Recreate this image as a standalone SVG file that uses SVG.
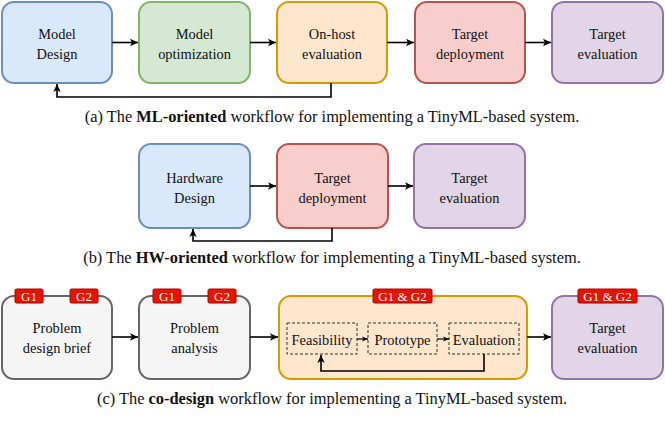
<svg xmlns="http://www.w3.org/2000/svg" width="665" height="423" viewBox="0 0 665 423" font-family="'Liberation Serif', 'Times New Roman', 'DejaVu Serif', serif">
<defs>
<marker id="arr" markerUnits="userSpaceOnUse" markerWidth="10" markerHeight="10" refX="9" refY="5" orient="auto">
<path d="M1,1.3 L9,5 L1,8.7 L3,5 Z" fill="#000"/>
</marker>
<marker id="arrs" markerUnits="userSpaceOnUse" markerWidth="8" markerHeight="8" refX="7" refY="4" orient="auto">
<path d="M1,1.5 L7,4 L1,6.5 L2.5,4 Z" fill="#000"/>
</marker>
</defs>
<style>
text{fill:#111;}
.t{font-size:14.4px;text-anchor:middle;}
.cap{font-size:16.4px;text-anchor:middle;}
.tag rect{fill:#e51400;stroke:#b20000;stroke-width:1;}
.tag text{font-size:13px;fill:#fff;text-anchor:middle;}
.box{stroke-width:2;}
.blue{fill:#dae8fc;stroke:#6c8ebf;}
.green{fill:#d5e8d4;stroke:#82b366;}
.orange{fill:#ffe6cc;stroke:#d79b00;}
.red{fill:#f8cecc;stroke:#b85450;}
.purple{fill:#e1d5e7;stroke:#9673a6;}
.gray{fill:#f5f5f5;stroke:#666666;}
.dash{fill:none;stroke:#333;stroke-width:1;stroke-dasharray:3 2;}
.c{fill:none;stroke:#000;stroke-width:1.6;}
.cs{fill:none;stroke:#000;stroke-width:1.2;}
</style>

<!-- Row (a) -->
<g id="a_model_design"><rect class="box blue" x="2" y="2" width="110" height="81" rx="12"/><text class="t" x="57" y="38.5">Model</text><text class="t" x="57" y="58.5">Design</text></g>
<g id="a_model_opt"><rect class="box green" x="139" y="2" width="111" height="81" rx="12"/><text class="t" x="194.5" y="38.5">Model</text><text class="t" x="194.5" y="58.5">optimization</text></g>
<g id="a_onhost"><rect class="box orange" x="277" y="2" width="110" height="81" rx="12"/><text class="t" x="332" y="38.5">On-host</text><text class="t" x="332" y="58.5">evaluation</text></g>
<g id="a_target_dep"><rect class="box red" x="415" y="2" width="110" height="81" rx="12"/><text class="t" x="470" y="38.5">Target</text><text class="t" x="470" y="58.5">deployment</text></g>
<g id="a_target_eval"><rect class="box purple" x="552" y="2" width="111" height="81" rx="12"/><text class="t" x="607.5" y="38.5">Target</text><text class="t" x="607.5" y="58.5">evaluation</text></g>
<text class="cap" x="332" y="122">(a) The <tspan font-weight="bold">ML-oriented</tspan> workflow for implementing a TinyML-based system.</text>

<!-- Row (b) -->
<g id="b_hw_design"><rect class="box blue" x="139" y="144" width="111" height="84" rx="12"/><text class="t" x="194.5" y="182.5">Hardware</text><text class="t" x="194.5" y="202.5">Design</text></g>
<g id="b_target_dep"><rect class="box red" x="277" y="144" width="111" height="84" rx="12"/><text class="t" x="332.5" y="182.5">Target</text><text class="t" x="332.5" y="202.5">deployment</text></g>
<g id="b_target_eval"><rect class="box purple" x="414" y="144" width="111" height="84" rx="12"/><text class="t" x="469.5" y="182.5">Target</text><text class="t" x="469.5" y="202.5">evaluation</text></g>
<text class="cap" x="332" y="263">(b) The <tspan font-weight="bold">HW-oriented</tspan> workflow for implementing a TinyML-based system.</text>

<!-- Row (c) -->
<g id="c_problem_brief"><rect class="box gray" x="2" y="296" width="110" height="83" rx="12"/><text class="t" x="57" y="333">Problem</text><text class="t" x="57" y="353">design brief</text>
<g class="tag"><rect x="15" y="289" width="28" height="14" rx="1.5"/><text x="29" y="300.5">G1</text></g>
<g class="tag"><rect x="70" y="289" width="28" height="14" rx="1.5"/><text x="84" y="300.5">G2</text></g></g>
<g id="c_problem_analysis"><rect class="box gray" x="139" y="296" width="111" height="83" rx="12"/><text class="t" x="194.5" y="333">Problem</text><text class="t" x="194.5" y="353">analysis</text>
<g class="tag"><rect x="153" y="289" width="28" height="14" rx="1.5"/><text x="167" y="300.5">G1</text></g>
<g class="tag"><rect x="208" y="289" width="28" height="14" rx="1.5"/><text x="222" y="300.5">G2</text></g></g>
<g id="c_iterative"><rect class="box orange" x="279" y="296" width="248" height="83" rx="12"/>
<g class="tag"><rect x="373" y="289" width="59" height="14" rx="1.5"/><text x="402.5" y="300.5">G1 &amp; G2</text></g>
<g id="c_feasibility"><rect class="dash" x="287" y="323" width="70" height="31"/><text class="t" x="322" y="344.5">Feasibility</text></g>
<g id="c_prototype"><rect class="dash" x="368" y="323" width="69" height="31"/><text class="t" x="402.5" y="344.5">Prototype</text></g>
<g id="c_evaluation"><rect class="dash" x="449" y="323" width="70" height="31"/><text class="t" x="484" y="344.5">Evaluation</text></g>
</g>
<g id="c_target_eval"><rect class="box purple" x="552" y="296" width="111" height="83" rx="12"/><text class="t" x="607.5" y="333">Target</text><text class="t" x="607.5" y="353">evaluation</text>
<g class="tag"><rect x="578" y="289" width="59" height="14" rx="1.5"/><text x="607.5" y="300.5">G1 &amp; G2</text></g></g>
<text class="cap" x="332" y="404">(c) The <tspan font-weight="bold">co-design</tspan> workflow for implementing a TinyML-based system.</text>

<!-- Connectors -->
<g id="connectors">
<path class="c" d="M112,42.5 H138" marker-end="url(#arr)"/>
<path class="c" d="M250,42.5 H276" marker-end="url(#arr)"/>
<path class="c" d="M387,42.5 H414" marker-end="url(#arr)"/>
<path class="c" d="M525,42.5 H551" marker-end="url(#arr)"/>
<path class="c" d="M331,83 V97 H57 V84" marker-end="url(#arr)"/>

<path class="c" d="M250,186 H276" marker-end="url(#arr)"/>
<path class="c" d="M388,186 H413" marker-end="url(#arr)"/>
<path class="c" d="M332,228 V241 H193 V229" marker-end="url(#arr)"/>

<path class="c" d="M112,337 H138" marker-end="url(#arr)"/>
<path class="c" d="M250,337 H278" marker-end="url(#arr)"/>
<path class="c" d="M527,337 H551" marker-end="url(#arr)"/>
<path class="cs" d="M357,339 H368" marker-end="url(#arrs)"/>
<path class="cs" d="M437,339 H449" marker-end="url(#arrs)"/>
<path class="c" d="M484,354 V371 H321 V355" marker-end="url(#arr)"/>
</g>
</svg>
